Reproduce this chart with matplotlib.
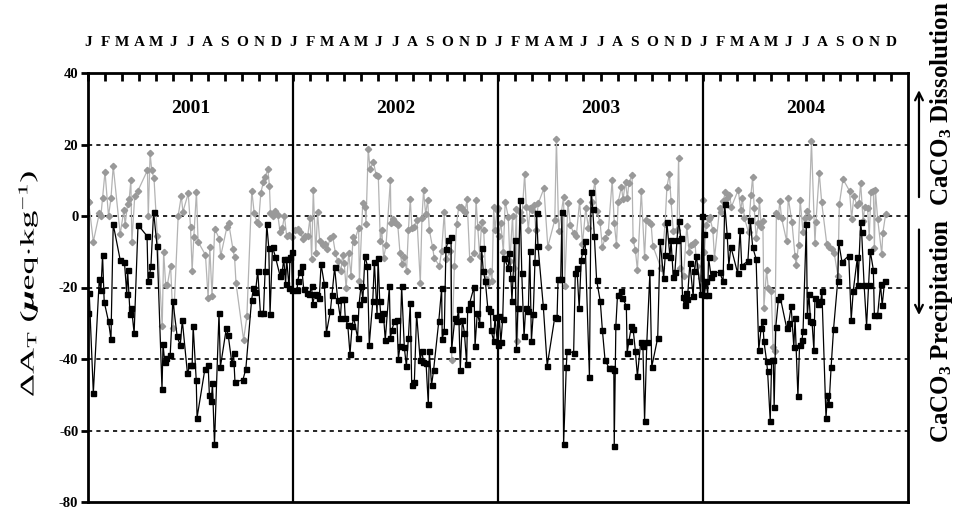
import numpy as np
import matplotlib
matplotlib.use("Agg")
import matplotlib.pyplot as plt
import matplotlib.transforms as mtransforms
from matplotlib.textpath import TextPath
from matplotlib.patches import PathPatch
from matplotlib.font_manager import FontProperties

plt.rcParams['font.family'] = ['Liberation Serif', 'DejaVu Serif']
plt.rcParams['mathtext.fontset'] = 'custom'
plt.rcParams['mathtext.rm'] = 'Liberation Serif'
plt.rcParams['mathtext.it'] = 'Liberation Serif:italic:bold'
plt.rcParams['mathtext.bf'] = 'Liberation Serif:bold'

# data: fraction of year, value (ueq/kg)
years = [2001, 2002, 2003, 2004]
month_labels = ['J', 'F', 'M', 'A', 'M', 'J', 'J', 'A', 'S', 'O', 'N', 'D']
y_ticks = [40, 20, 0, -20, -40, -60, -80]

black_2001_t = [0.000, 0.006, 0.026, 0.055, 0.063, 0.071, 0.079, 0.100, 0.112, 0.123, 0.157, 0.178,
                0.189, 0.193, 0.205, 0.212, 0.225, 0.244, 0.288, 0.293, 0.301, 0.307, 0.320, 0.337,
                0.361, 0.366, 0.374, 0.382, 0.401, 0.414, 0.435, 0.450, 0.460, 0.485, 0.497, 0.508,
                0.513, 0.528, 0.532, 0.570, 0.586, 0.592, 0.602, 0.607, 0.617, 0.639, 0.646, 0.675,
                0.684, 0.702, 0.710, 0.717, 0.756, 0.770, 0.798, 0.807, 0.817, 0.828, 0.841, 0.856,
                0.864, 0.872, 0.882, 0.888, 0.900, 0.914, 0.937, 0.948, 0.955, 0.964, 0.969, 0.981,
                0.985, 0.993, 0.997]
black_2001_v = [-27, -21.6, -49.5, -17.6, -20.8, -11, -24, -29.5, -34.4, -2.3, -12.3, -13,
                -21.8, -15, -27.3, -25.6, -32.8, -2.5, -5.6, -18.3, -16.2, -14, 1.2, -8.5,
                -48.4, -35.9, -40.7, -39.7, -38.9, -23.7, -33.7, -36.2, -29.2, -44, -41.8, -41.8,
                -30.8, -46, -56.4, -42.9, -41.6, -50, -51.7, -46.6, -63.9, -27.2, -42.2, -31.3,
                -33.4, -41.2, -38.3, -46.5, -45.8, -42.7, -23.5, -20.2, -21.3, -15.3, -27.2, -27,
                -15.3, -2.3, -9, -27.4, -8.6, -11.4, -16.8, -15.3, -12, -19, -12, -20.2,
                -11.6, -10.1, -20.6]

black_2002_t = [0.020, 0.023, 0.033, 0.042, 0.052, 0.068, 0.080, 0.091, 0.096, 0.107, 0.117, 0.128,
                0.137, 0.153, 0.163, 0.182, 0.190, 0.203, 0.218, 0.231, 0.237, 0.250, 0.255, 0.267,
                0.278, 0.288, 0.296, 0.315, 0.322, 0.332, 0.341, 0.351, 0.363, 0.372, 0.389, 0.397,
                0.410, 0.415, 0.423, 0.429, 0.441, 0.450, 0.470, 0.475, 0.483, 0.494, 0.507, 0.514,
                0.522, 0.530, 0.543, 0.553, 0.563, 0.572, 0.579, 0.592, 0.603, 0.620, 0.629, 0.636,
                0.649, 0.660, 0.665, 0.676, 0.686, 0.711, 0.725, 0.728, 0.738, 0.746, 0.758, 0.771,
                0.774, 0.790, 0.798, 0.808, 0.816, 0.826, 0.836, 0.847, 0.852, 0.862, 0.883, 0.888,
                0.899, 0.911, 0.920, 0.928, 0.938, 0.950, 0.963, 0.966, 0.979, 0.985, 0.998]
black_2002_v = [-20.7, -18.1, -15.7, -14, -20.4, -21.6, -21.9, -19.7, -24.6, -21.9, -22, -23,
                -13.5, -19.1, -32.7, -26.7, -22.2, -14.4, -23.4, -28.6, -23.2, -23.3, -28.6, -30.4,
                -38.6, -30.9, -28.3, -34.1, -24.7, -19.5, -23.2, -11.1, -14, -36, -23.9, -12.9,
                -27.8, -11.8, -23.7, -28.7, -27.2, -34.7, -19.7, -34.1, -31.8, -29.5, -29, -39.9,
                -36.5, -19.6, -36.7, -42, -34, -24.4, -47.2, -46.4, -27.3, -40.2, -37.9, -40.7,
                -41.1, -52.7, -37.9, -47.3, -43, -29.5, -20.2, -34.4, -32.1, -9.2, -6.7, -6,
                -37.3, -28.4, -29.5, -26.1, -43, -29, -32.6, -41.4, -26.1, -24.3, -19.9, -36.3,
                -27.1, -30.1, -9, -15.3, -18.1, -25.6, -26.5, -31.8, -35.1, -28.3, -36]

black_2003_t = [0.006, 0.014, 0.023, 0.031, 0.050, 0.055, 0.063, 0.068, 0.082, 0.090, 0.097, 0.108,
                0.116, 0.127, 0.135, 0.148, 0.155, 0.163, 0.172, 0.180, 0.188, 0.195, 0.221, 0.240,
                0.277, 0.288, 0.293, 0.306, 0.312, 0.320, 0.333, 0.337, 0.369, 0.377, 0.385, 0.396,
                0.406, 0.414, 0.425, 0.446, 0.454, 0.462, 0.470, 0.481, 0.499, 0.509, 0.522, 0.541,
                0.554, 0.565, 0.567, 0.575, 0.583, 0.599, 0.607, 0.626, 0.630, 0.639, 0.651, 0.659,
                0.670, 0.680, 0.696, 0.707, 0.715, 0.726, 0.741, 0.750, 0.779, 0.791, 0.808, 0.816,
                0.824, 0.839, 0.844, 0.855, 0.863, 0.873, 0.881, 0.892, 0.900, 0.910, 0.916, 0.924,
                0.936, 0.952, 0.957, 0.968, 0.989, 0.997]
black_2003_v = [-28.1, -35.3, -28.7, -11.8, -14.6, -10.4, -17.4, -23.7, -6.7, -37.2, -25.6, 4.5,
                -16, -33.7, -25.8, -26.5, -9.8, -34.9, -27.3, -12.9, 0.9, -8.3, -25.3, -41.9,
                -28.3, -28.6, -17.6, -17.6, 1.2, -63.9, -42.3, -37.7, -38.3, -16, -14.6, -25.8,
                -12.3, -9.8, -7, -45, 6.8, 2, -5.6, -17.9, -23.9, -31.8, -40.2, -42.5,
                -42.5, -43, -64.2, -30.7, -22, -21.1, -23, -25.1, -38.3, -34.9, -30.7, -31.5,
                -37.7, -44.8, -35.3, -36.5, -57.4, -35.3, -15.7, -42.2, -34.1, -6.9, -17.4, -10.9,
                -1.8, -11.6, -6.7, -17.2, -15.7, -6.7, -1.3, -6.2, -22.7, -25, -21.6, -23.2,
                -13.2, -22.5, -15.5, -11.1, -21.9, 0.1]

black_2004_t = [0.003, 0.007, 0.015, 0.023, 0.027, 0.040, 0.048, 0.081, 0.098, 0.106, 0.118, 0.126,
                0.136, 0.169, 0.181, 0.189, 0.219, 0.231, 0.242, 0.259, 0.272, 0.284, 0.292, 0.297,
                0.310, 0.315, 0.328, 0.335, 0.343, 0.347, 0.355, 0.368, 0.376, 0.408, 0.418, 0.430,
                0.443, 0.449, 0.463, 0.471, 0.483, 0.488, 0.504, 0.509, 0.517, 0.524, 0.532, 0.541,
                0.546, 0.562, 0.574, 0.580, 0.600, 0.607, 0.615, 0.625, 0.637, 0.657, 0.662, 0.678,
                0.711, 0.723, 0.733, 0.753, 0.756, 0.769, 0.774, 0.786, 0.798, 0.808, 0.816, 0.831,
                0.836, 0.852, 0.866, 0.874, 0.886]
black_2004_v = [-5.1, -22, -18.3, -22, -11.5, -17.2, -16, -15.7, -18.3, 3.3, -5.3, -13.9,
                -8.6, -16, -3.9, -13.9, -12.6, -1.1, -8.6, -12, -37.4, -31.2, -29.3, -34.9,
                -40.5, -43.4, -57.4, -40.2, -40.2, -53.5, -31.1, -23.2, -22.5, -31.3, -30, -25.3,
                -36.7, -28.6, -50.4, -36.2, -34.6, -32.3, -2.3, -27.8, -21.9, -29.3, -29.7, -37.6,
                -23, -24.7, -23.9, -21.1, -56.5, -50.1, -52.7, -42.2, -31.5, -18.3, -7.4, -12.9,
                -11.1, -29, -20.9, -11.6, -19.4, -1.8, -4.6, -19.4, -30.7, -19.4, -9.8, -15.1,
                -27.8, -27.6, -19.1, -25, -18.3]

grey_2001_t = [0.000, 0.003, 0.026, 0.055, 0.063, 0.071, 0.083, 0.100, 0.112, 0.123, 0.157, 0.175,
               0.181, 0.193, 0.201, 0.209, 0.214, 0.228, 0.244, 0.290, 0.294, 0.303, 0.311, 0.322,
               0.338, 0.362, 0.369, 0.379, 0.387, 0.403, 0.416, 0.440, 0.455, 0.463, 0.489, 0.500,
               0.508, 0.516, 0.529, 0.537, 0.573, 0.586, 0.594, 0.605, 0.618, 0.641, 0.647, 0.678,
               0.686, 0.707, 0.715, 0.722, 0.759, 0.775, 0.799, 0.811, 0.824, 0.832, 0.843, 0.856,
               0.864, 0.877, 0.885, 0.890, 0.901, 0.913, 0.926, 0.937, 0.948, 0.958, 0.969, 0.981,
               0.993]
grey_2001_v = [4.2, 4, -7.2, 0.7, 0.1, 4.9, 12.4, 0, 4.9, 14, -5.1, 1.7,
               -2.5, 3.3, 4.7, 10, -7.3, 5.6, 7.1, 12.8, 0, 17.5, 12.8, 10.5,
               -5.6, -30.9, -10, -19.4, -19.3, -14, -31.3, 0.1, 5.6, 1.2, 6.3, -3,
               -15.3, -6, 6.8, -7.2, -10.9, -23, -8.6, -22.5, -3.6, -6.4, -11.3, -3,
               -1.9, -9.3, -11.6, -18.8, -34.6, -28.1, 7.1, 0.7, -1.6, -2.1, 6.5, 9.6,
               10.8, 13.1, 8.5, 0.7, 0.1, 1.4, 0.3, -4.6, -3.4, 0, -5.5, -5.3,
               -5.8]

grey_2002_t = [0.010, 0.026, 0.036, 0.047, 0.059, 0.072, 0.083, 0.091, 0.099, 0.111, 0.120, 0.130,
               0.145, 0.158, 0.166, 0.182, 0.193, 0.207, 0.218, 0.234, 0.242, 0.250, 0.259, 0.272,
               0.283, 0.293, 0.299, 0.320, 0.324, 0.340, 0.351, 0.356, 0.367, 0.376, 0.392, 0.405,
               0.416, 0.426, 0.433, 0.442, 0.454, 0.475, 0.478, 0.486, 0.494, 0.502, 0.511, 0.522,
               0.532, 0.543, 0.554, 0.563, 0.572, 0.580, 0.589, 0.605, 0.621, 0.629, 0.637, 0.647,
               0.657, 0.665, 0.681, 0.689, 0.714, 0.725, 0.738, 0.748, 0.767, 0.774, 0.787, 0.798,
               0.808, 0.820, 0.828, 0.839, 0.849, 0.862, 0.885, 0.893, 0.901, 0.911, 0.920, 0.930,
               0.941, 0.950, 0.961, 0.971, 0.979, 0.985, 0.995]
grey_2002_v = [-3.9, -3.6, -4.6, -6.4, -5.5, -5.5, -0.5, -12, 7.3, -10.4, 1, -7,
               -8.1, -7.7, -9.2, -6.2, -5.5, -10.4, -12.6, -15.3, -10.9, -13.2, -20.2, -10.4,
               -16.7, -5.8, -7.2, -3.3, -18.3, 3.5, 2.6, -2.1, 18.7, 13.1, 15.2, 11.6,
               11.2, -7, -3.9, -11.8, -8.1, 10, -1.9, -0.8, -1.6, -2, -2.5, -10.4,
               -13.4, -11.5, -15.3, -3.9, 4.7, -3.4, -3, -1.1, -18.8, -0.5, 7.2, 0.5,
               4.5, -3.9, -8.8, -11.8, -13.9, -9.8, 1, -12, -9.8, -40.2, -14.1, -2.2,
               2.4, 2.6, 1.7, 1.2, 4.7, -12, -10.4, 4.5, -3, -11.3, -1.6, -3.9,
               -17.6, -18.8, -15.3, -18.3, 2.6, -3.9, 1.6]

grey_2003_t = [0.000, 0.003, 0.014, 0.026, 0.035, 0.050, 0.058, 0.071, 0.079, 0.090, 0.095, 0.106,
               0.116, 0.130, 0.138, 0.148, 0.156, 0.164, 0.176, 0.184, 0.196, 0.224, 0.243, 0.277,
               0.285, 0.296, 0.320, 0.325, 0.341, 0.353, 0.369, 0.382, 0.398, 0.412, 0.428, 0.441,
               0.457, 0.473, 0.481, 0.498, 0.509, 0.522, 0.538, 0.557, 0.567, 0.578, 0.586, 0.602,
               0.610, 0.622, 0.631, 0.638, 0.654, 0.659, 0.670, 0.680, 0.699, 0.715, 0.723, 0.736,
               0.747, 0.755, 0.795, 0.815, 0.824, 0.836, 0.844, 0.855, 0.873, 0.881, 0.889, 0.905,
               0.921, 0.932, 0.940, 0.952, 0.961, 0.969, 0.989]
grey_2003_v = [2.1, -5.5, -2, -10, 4, -0.2, -12.7, 0.1, -14.6, 2, -35, 1.2,
               -1.1, 11.8, 2.6, -3.9, 2.1, 1.7, 3.1, -3.9, 3.5, 7.7, -8.6, -1.1,
               21.5, -4.2, 5.4, -19.7, 3.7, -2.5, -4.8, -5.6, 4.2, -7.9, 2.1, -3.3,
               4, 9.8, 1.4, -1.8, -8.8, -6.2, -4.4, 10, -1.9, -8.1, 3.8, 8.2,
               4.7, 9.6, 4.9, 9.1, 11.6, -6.7, -9.5, -15.1, 7, -11.5, -1.1, -1.6,
               -2.3, -8.3, -14.6, -2.2, 8.2, 11.7, 4.2, -4.2, -3.9, 16.3, -14.6, -16.9,
               -2.8, -10, -8.1, -7.9, -7.3, -14.1, -17.4]

grey_2004_t = [0.000, 0.007, 0.015, 0.027, 0.032, 0.048, 0.056, 0.081, 0.090, 0.098, 0.109, 0.119,
               0.128, 0.139, 0.172, 0.184, 0.192, 0.202, 0.222, 0.234, 0.242, 0.250, 0.259, 0.269,
               0.275, 0.284, 0.292, 0.297, 0.310, 0.318, 0.333, 0.342, 0.350, 0.358, 0.368, 0.375,
               0.383, 0.408, 0.416, 0.434, 0.449, 0.454, 0.466, 0.474, 0.488, 0.496, 0.509, 0.517,
               0.529, 0.546, 0.551, 0.567, 0.579, 0.604, 0.617, 0.629, 0.640, 0.658, 0.665, 0.683,
               0.715, 0.725, 0.736, 0.750, 0.761, 0.769, 0.781, 0.789, 0.803, 0.811, 0.819, 0.831,
               0.836, 0.841, 0.852, 0.872, 0.877, 0.891]
grey_2004_v = [4.5, -10, -2.5, -0.7, -0.2, -3.9, -11.8, 2.1, 1.2, 4.2, 6.6, 5.1,
               6, 2.6, 7.3, 1.7, 4.9, -0.5, -4.6, 6, 10.9, 2.1, -6.2, -2,
               4.6, -3, -1.4, -25.6, -15.1, -20.2, -20.9, -36.7, -37.7, 0.9, 0.1, 4.2,
               -0.5, -7, 5.1, -1.8, -11.3, -13.7, -8.1, 4.5, -4.6, -0.5, 1.5, -0.2,
               20.9, -7.6, -1.6, 12.1, 3.8, -7.9, -8.6, -9.2, -10.4, -16.7, 3.3, 10.3,
               7, -0.8, 5.7, 3.1, 3.5, 9.3, -1.4, 2.6, 2.1, -6, 6.6, 7,
               -9, 7.2, -0.8, -10.7, -4.8, 0.5]


def join(ts, vs):
    t = np.concatenate([np.array(a) + i for i, a in enumerate(ts)])
    v = np.concatenate([np.array(b) for b in vs])
    return t, v


black_t, black_v = join([black_2001_t, black_2002_t, black_2003_t, black_2004_t],
                        [black_2001_v, black_2002_v, black_2003_v, black_2004_v])
grey_t, grey_v = join([grey_2001_t, grey_2002_t, grey_2003_t, grey_2004_t],
                      [grey_2001_v, grey_2002_v, grey_2003_v, grey_2004_v])

fig = plt.figure(figsize=(9.56, 5.12), dpi=100)
ax = fig.add_axes([88 / 956, 1 - 502 / 512, 820 / 956, 429 / 512])

# dotted reference lines
for yv in [20, 0, -20, -40, -60]:
    ax.axhline(yv, color='black', lw=1.2, dashes=(2.5, 2.5), zorder=1)
for i in range(1, 4):
    ax.axvline(i, color='black', lw=1.6, zorder=4)

ax.plot(grey_t, grey_v, color='#b3b3b3', lw=0.9, marker='D', ms=3.2,
        mfc='#999999', mec='#999999', zorder=2)
ax.plot(black_t, black_v, color='black', lw=0.9, marker='s', ms=3.6,
        mfc='black', mec='black', zorder=3)

ax.set_xlim(0, 4)
ax.set_ylim(-80, 40)

for s in ax.spines.values():
    s.set_linewidth(2)

# months across the top
ax.xaxis.tick_top()
ax.set_xticks([m / 12 for m in range(48)])
ax.set_xticklabels(month_labels * 4, fontsize=11, fontweight='bold')
ax.tick_params(axis='x', direction='in', length=6, width=2, pad=17)
ax.tick_params(axis='y', direction='out', length=5, width=2, pad=2)
ax.set_yticks(y_ticks)
ax.set_yticklabels([str(v) for v in y_ticks], fontsize=10.5, fontweight='bold')

for i, yr in enumerate(years):
    ax.text(i + 0.5, 30, str(yr), ha='center', va='center', fontsize=14, fontweight='bold')

# y label: the original is drawn wide along its length, so stretch a text path
ylab = r'$\Delta$A$_\mathregular{T}$ ($\mathit{\mu}$eq$\cdot$kg$^{-1}$)'
tp = TextPath((0, 0), ylab, size=14, prop=FontProperties(family='Liberation Serif'))
bb = tp.get_extents()
stretch = 1.85
tr = (mtransforms.Affine2D()
      .translate(-(bb.x0 + bb.x1) / 2, -(bb.y0 + bb.y1) / 2)
      .scale(stretch / 72, 1 / 72)
      .rotate_deg(90)
      .translate(28 / 100, (512 - 284) / 100))
fig.add_artist(PathPatch(tp, transform=tr + fig.dpi_scale_trans, facecolor='black', lw=0))

# dissolution / precipitation arrows at right
ax.annotate('', xy=(1.0134, 36), xytext=(1.0134, 4.5), xycoords=('axes fraction', 'data'),
            arrowprops=dict(arrowstyle='->', lw=1.6, color='black', mutation_scale=14),
            annotation_clip=False)
ax.annotate('', xy=(1.0134, -28.5), xytext=(1.0134, -3), xycoords=('axes fraction', 'data'),
            arrowprops=dict(arrowstyle='->', lw=1.6, color='black', mutation_scale=14),
            annotation_clip=False)
fig.text(0.985, 0.797, r'CaCO$_\mathregular{3}$ Dissolution', rotation=90, ha='center', va='center',
         fontsize=18, fontweight='bold')
fig.text(0.985, 0.354, r'CaCO$_\mathregular{3}$ Precipitation', rotation=90, ha='center', va='center',
         fontsize=18, fontweight='bold')

fig.savefig('out.png', dpi=100)
